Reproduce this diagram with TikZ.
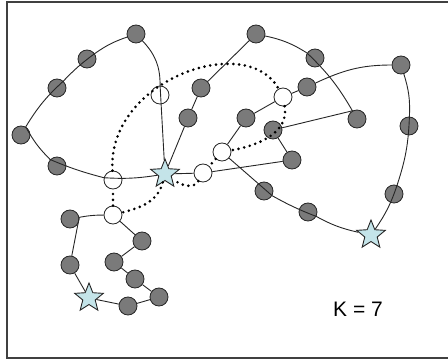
\documentclass[tikz,border=0pt]{standalone}
\usepackage{fontspec}
\setmainfont{Liberation Sans}
\usetikzlibrary{shapes.geometric}

\definecolor{beadgray}{RGB}{122,122,122}
\definecolor{tipblue}{RGB}{196,228,233}

\begin{document}
\begin{tikzpicture}[x=1pt, y=1pt,
  bead/.style={circle, draw=black!85, line width=0.8pt, fill=beadgray, minimum size=18pt, inner sep=0pt},
  cut/.style={circle, draw=black!85, line width=0.8pt, fill=white, minimum size=18pt, inner sep=0pt},
  tip/.style={star, star points=5, star point ratio=2.3, draw=black!85, line width=0.9pt, fill=tipblue, minimum size=30pt, inner sep=0pt},
  chain/.style={draw=black!85, line width=0.9pt},
  ring/.style={draw=black, line width=2.9pt, line cap=round, dash pattern=on 0pt off 5.8pt}]
  \useasboundingbox (0,0) rectangle (448,360);

  % Frame (open on the right)
  \draw[line width=2pt, black!75] (448,357.8) -- (7,357.8) -- (7,2.3) -- (448,2.3);

  % Left loop
  \node[bead] (a1) at (136,326) {};
  \node[bead] (a2) at (87,301) {};
  \node[bead] (a3) at (57,272) {};
  \node[bead] (a4) at (21,225) {};
  \node[bead] (a5) at (57,194) {};
  \node[cut] (w1) at (113,180) {};
  \node[cut] (w2) at (160,265) {};
  \node[tip] (s1) at (165,186) {};

  % Upper middle loop
  \node[bead] (b1) at (188,242) {};
  \node[bead] (b2) at (201,272) {};
  \node[bead] (b3) at (256,326) {};
  \node[bead] (b4) at (315,302) {};
  \node[bead] (b5) at (357,241) {};
  \node[bead] (b6) at (273,230) {};
  \node[bead] (b7) at (292,200) {};
  \node[cut] (w3) at (203,187) {};

  % Right loop
  \node[cut] (w4) at (222,208) {};
  \node[bead] (c3) at (246,242) {};
  \node[cut] (w5) at (283,263) {};
  \node[bead] (c4) at (307,273) {};
  \node[bead] (c5) at (401,295) {};
  \node[bead] (c6) at (409,234) {};
  \node[bead] (c7) at (394,166) {};
  \node[tip] (s2) at (371,125) {};
  \node[bead] (c1) at (308,148) {};
  \node[bead] (c2) at (264,169) {};

  % Lower loop
  \node[cut] (w6) at (113,145) {};
  \node[bead] (d1) at (70,141) {};
  \node[bead] (d2) at (70,95) {};
  \node[tip] (s3) at (89,62) {};
  \node[bead] (d3) at (128,54) {};
  \node[bead] (d4) at (159,63) {};
  \node[bead] (d5) at (135,81) {};
  \node[bead] (d6) at (114,98) {};
  \node[bead] (d7) at (142,119) {};

  % Chain segments
  \draw[chain] (a1) to[bend right=8] (a2) to[bend right=5] (a3) to[bend right=8] (a4)
    to[bend right=8] (a5) to[bend right=4] (w1) to[bend right=6] (s1);
  \draw[chain] (a1) to[bend left=22] (w2) -- (s1);
  \draw[chain] (s1) -- (b1) -- (b2) -- (b3);
  \draw[chain] (b3) to[bend left=10] (b4) to[bend left=8] (b5) -- (b6) -- (b7) -- (w3) -- (s1);
  \draw[chain] (s2) to[bend left=8] (c1) to[bend left=4] (c2) -- (w4) -- (c3) -- (w5) -- (c4);
  \draw[chain] (c4) to[out=25, in=180] (c5) to[bend left=10] (c6) to[bend left=8] (c7) to[bend left=8] (s2);
  \draw[chain] (w6) to[bend right=5] (d1) -- (d2) -- (s3) -- (d3) -- (d4) -- (d5) -- (d6) -- (d7) -- (w6);

  % Dotted ring through the cut points
  \draw[ring] (w1) .. controls +(-6,100) and +(-36,66) .. (w5);
  \draw[ring] (w5) to[out=-80, in=10] (w4);
  \draw[ring] (w4) -- (w3);
  \draw[ring] (w3) to[out=-120, in=-35] (s1);
  \draw[ring] (s1) to[out=-105, in=15] (w6);
  \draw[ring] (w6) -- (w1);

  % Label
  \node[font=\fontsize{21}{25}\selectfont] (kval) at (358,51) {K = 7};
\end{tikzpicture}
\end{document}
